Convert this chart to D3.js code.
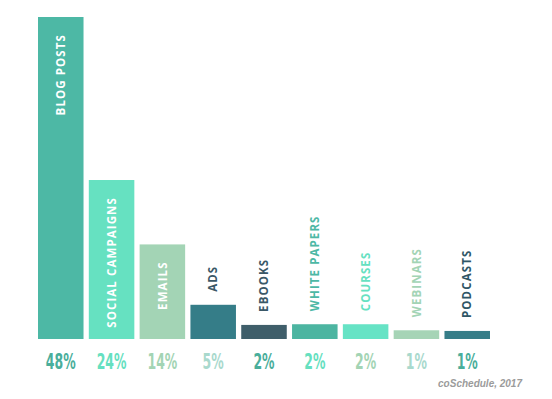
<!DOCTYPE html>
<html>
<head>
<meta charset="utf-8">
<script src="https://cdn.jsdelivr.net/npm/d3@7/dist/d3.min.js"></script>
<style>
  html, body { margin: 0; padding: 0; background: #fff; }
  svg { display: block; }
</style>
</head>
<body>
<svg id="chart" width="552" height="399"></svg>
<script>
// ---- data ----
const categories = ["BLOG POSTS", "SOCIAL CAMPAIGNS", "EMAILS", "ADS", "EBOOKS", "WHITE PAPERS", "COURSES", "WEBINARS", "PODCASTS"];
const values = [48, 23.7, 14.1, 5.1, 2.1, 2.2, 2.2, 1.3, 1.2];
const percentLabels = ["48%", "24%", "14%", "5%", "2%", "2%", "2%", "1%", "1%"];
const barColors = ["#4db8a5", "#66e1c1", "#a3d4b5", "#357d88", "#3f5e6a", "#4cb5a1", "#66e3c5", "#a6d4b6", "#367d88"];
const labelInside = [true, true, true, false, false, false, false, false, false];
const labelColors = ["#ffffff", "#ffffff", "#ffffff", "#3a5867", "#3a5867", "#4db8a5", "#66e1c1", "#a3d4b5", "#2f5666"];
const percentColors = ["#4aae9b", "#66e0c0", "#a3d4b4", "#a9d9cd", "#4aae9b", "#66e0c0", "#a3d4b4", "#a9d9cd", "#4aae9b"];
const credit = "coSchedule, 2017";

const svg = d3.select("#chart");
const baseY = 339;

const x = d3.scaleBand()
  .domain(categories)
  .range([38, 490])
  .paddingInner(0.104)
  .paddingOuter(0);

const y = d3.scaleLinear()
  .domain([0, 48])
  .range([baseY, 17]);

const data = categories.map((c, i) => ({
  cat: c, v: values[i], pct: percentLabels[i], color: barColors[i],
  inside: labelInside[i], lcolor: labelColors[i], pcolor: percentColors[i]
}));

// bars
svg.append("g").selectAll("rect").data(data).join("rect")
  .attr("x", d => x(d.cat))
  .attr("y", d => y(d.v))
  .attr("width", x.bandwidth())
  .attr("height", d => baseY - y(d.v))
  .attr("fill", d => d.color);

// category labels (rotated)
svg.append("g").selectAll("text").data(data).join("text")
  .attr("transform", d => {
    const cx = x(d.cat) + x.bandwidth() / 2;
    const ty = d.inside ? y(d.v) + 17 : y(d.v) - 13;
    return `translate(${cx},${ty}) rotate(-90)`;
  })
  .attr("text-anchor", d => d.inside ? "end" : "start")
  .attr("dy", "0.36em")
  .attr("font-family", "'Open Sans', sans-serif")
  .attr("font-weight", 700)
  .attr("font-size", 11.5)
  .attr("letter-spacing", 1.1)
  .attr("fill", d => d.lcolor)
  .text(d => d.cat);

// percentage labels
svg.append("g").selectAll("text").data(data).join("text")
  .attr("transform", d => `translate(${x(d.cat) + x.bandwidth() / 2},369) scale(0.66,1)`)
  .attr("text-anchor", "middle")
  .attr("font-family", "'DejaVu Sans Condensed', 'DejaVu Sans', sans-serif")
  .attr("font-weight", "bold")
  .attr("font-stretch", "condensed")
  .attr("font-size", 21)
  .attr("fill", d => d.pcolor)
  .text(d => d.pct);

// credit
svg.append("text")
  .attr("x", 522)
  .attr("y", 387)
  .attr("text-anchor", "end")
  .attr("font-family", "'Liberation Sans', Arial, sans-serif")
  .attr("font-style", "italic")
  .attr("font-weight", "bold")
  .attr("font-size", 10)
  .attr("fill", "#9b9b9b")
  .text(credit);
</script>
</body>
</html>
